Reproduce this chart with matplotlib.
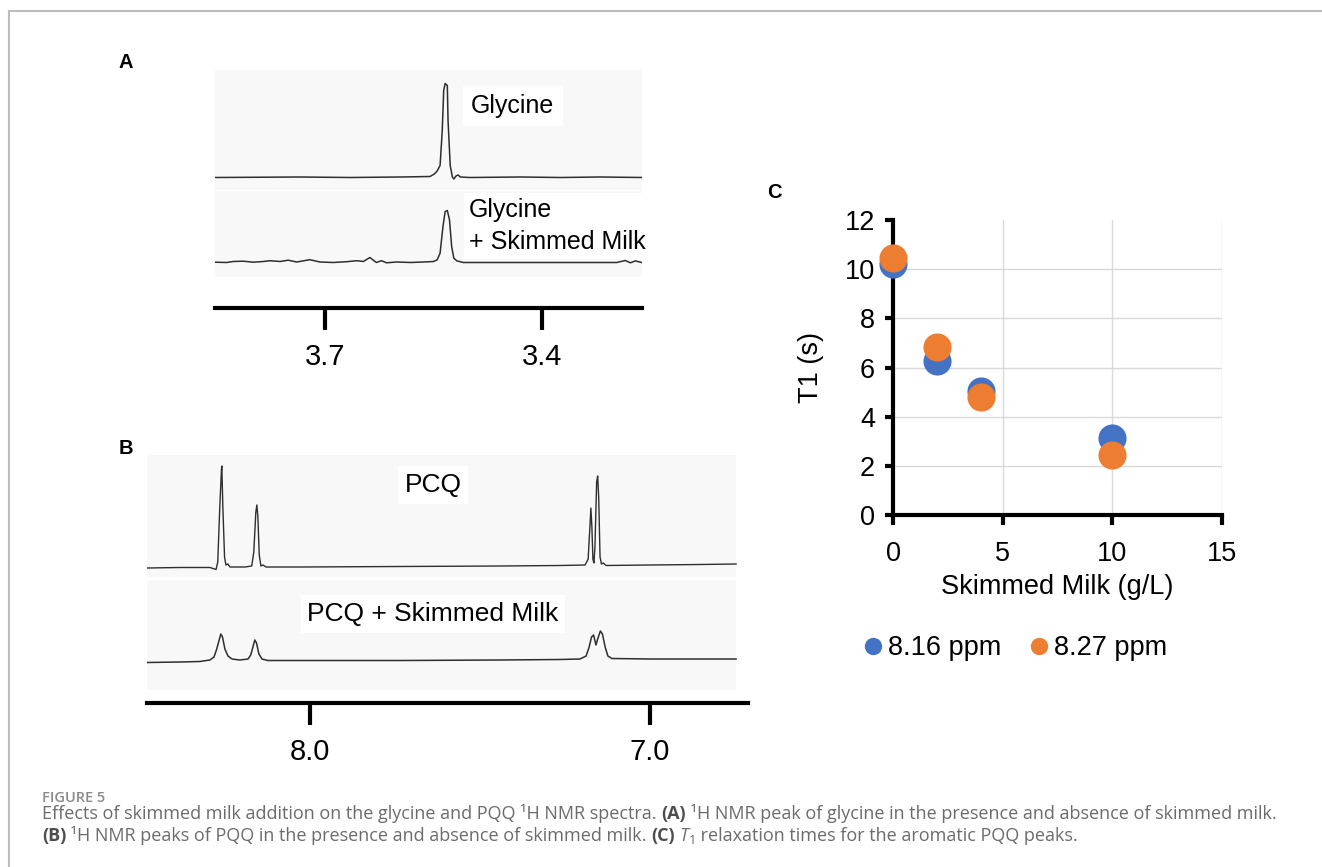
import matplotlib
matplotlib.use("Agg")
import matplotlib.pyplot as plt
import numpy as np
from matplotlib.lines import Line2D
from matplotlib.patches import Rectangle

# --- data ---
# panel A: glycine 1H NMR traces (ppm, intensity a.u.)
gly_ppm = [3.852, 3.735, 3.665, 3.596, 3.555, 3.549, 3.545, 3.541, 3.538, 3.536,
           3.534, 3.531, 3.530, 3.527, 3.524, 3.522, 3.519, 3.516, 3.513, 3.500,
           3.430, 3.375, 3.320, 3.262]
gly_int = [0, 0.5, 0, 0.5, 1, 3.5, 6.5, 12, 47, 87,
           94, 92, 57, 12, 0.5, -1.5, 1.5, 2.5, 0.5, 0,
           0.5, 0, 0.5, 0]

glym_ppm = [3.852, 3.836, 3.827, 3.813, 3.799, 3.785, 3.776, 3.762, 3.751, 3.739,
            3.721, 3.707, 3.689, 3.670, 3.656, 3.647, 3.638, 3.629, 3.622, 3.615,
            3.601, 3.582, 3.564, 3.550, 3.545, 3.541, 3.537, 3.534, 3.531, 3.528,
            3.525, 3.522, 3.518, 3.509, 3.481, 3.435, 3.389, 3.343, 3.297, 3.285,
            3.278, 3.271, 3.261]
glym_int = [0.3, 0, 1.0, 1.3, 0.3, 1.0, 1.8, 1.0, 2.3, 0.5,
            2.8, 0.5, 0, 0.8, 1.8, 1.0, 5.0, 0, 1.8, -0.3,
            0.5, 0, 0.5, 1.0, 2.7, 9.3, 36, 51, 52, 42.7,
            16, 4.3, 1.7, 0, 0, 0, 0, 0, 0, 2.0,
            -0.3, 1.6, -0.3]

# panel B: PQQ 1H NMR traces
pqq_ppm = [8.479, 8.382, 8.294, 8.276, 8.271, 8.265, 8.260, 8.259, 8.256, 8.251,
           8.247, 8.241, 8.235, 8.191, 8.171, 8.165, 8.159, 8.156, 8.153, 8.149,
           8.144, 8.138, 8.129, 8.029, 7.735, 7.441, 7.265, 7.191, 7.182, 7.176,
           7.174, 7.171, 7.168, 7.165, 7.162, 7.157, 7.154, 7.151, 7.147, 7.143,
           7.138, 7.129, 7.000, 6.853, 6.747]
pqq_int = [-1, -0.5, -0.5, -2.5, 5, 60, 98, 101, 60, 10,
           2, 3, 0, 0, 1, 15, 55, 62, 50, 12,
           1, 2, 0, 0, 0.5, 1, 1.5, 2, 8, 45,
           59, 40, 8, 4, 20, 85, 91, 70, 10, 3,
           4, 1.5, 2, 2.5, 3]

pqqm_ppm = [8.479, 8.382, 8.324, 8.294, 8.282, 8.274, 8.266, 8.262, 8.257, 8.250,
            8.241, 8.229, 8.206, 8.182, 8.174, 8.166, 8.162, 8.157, 8.150, 8.141,
            8.124, 8.029, 7.735, 7.441, 7.265, 7.206, 7.188, 7.179, 7.172, 7.166,
            7.159, 7.154, 7.146, 7.140, 7.132, 7.124, 7.112, 7.000, 6.853, 6.747]
pqqm_int = [-1.5, -1, -0.5, 1, 4, 12, 22, 27, 24, 12,
            5, 2, 1, 2, 6, 16, 21, 18, 7, 2,
            0.5, 0.5, 0.5, 1, 1.5, 2, 5, 14, 24, 26,
            16, 22, 30, 27, 14, 5, 2.5, 2, 2, 2]

# panel C: T1 relaxation times
milk = [0, 2, 4, 10]
t1_816 = [10.2, 6.25, 5.05, 3.12]
t1_827 = [10.45, 6.85, 4.82, 2.45]

W, H = 1322, 867
fig = plt.figure(figsize=(W / 100, H / 100), dpi=100)
plt.rcParams['font.family'] = ['Liberation Sans', 'DejaVu Sans']

TRACE = '#2e2e2e'
BOX = '#f8f8f8'


def px_axes(x0, y0, x1, y1):
    return fig.add_axes([x0 / W, 1 - y1 / H, (x1 - x0) / W, (y1 - y0) / H])


def fx(x):
    return x / W


def fy(y):
    return 1 - y / H


def spectrum_axis(ax, ticks, labels):
    for s in ['left', 'top', 'right']:
        ax.spines[s].set_visible(False)
    ax.spines['bottom'].set_linewidth(3)
    ax.set_yticks([])
    ax.set_xticks(ticks)
    ax.set_xticklabels(labels)
    ax.tick_params(axis='x', direction='out', length=16, width=3, pad=9,
                   labelsize=21)
    ax.patch.set_visible(False)


# --- panel A ---
axA = px_axes(215, 70, 642, 308)
axA.set_xlim(3.852, 3.262)
axA.set_ylim(0, 238)
spectrum_axis(axA, [3.7, 3.4], ['3.7', '3.4'])
axA.add_patch(Rectangle((0, 118), 1, 120, transform=axA.get_yaxis_transform(),
                        fc=BOX, ec='none', zorder=0))
axA.add_patch(Rectangle((0, 31), 1, 86, transform=axA.get_yaxis_transform(),
                        fc=BOX, ec='none', zorder=0))
axA.plot(gly_ppm, np.array(gly_int) + 130.5, color=TRACE, lw=1.1)
axA.plot(glym_ppm, np.array(glym_int) + 45.5, color=TRACE, lw=1.1)

fig.text(fx(471), fy(106), 'Glycine', fontsize=18, va='center', ha='left',
         bbox=dict(fc='white', ec='none', pad=6))
fig.text(fx(469), fy(226), 'Glycine\n+ Skimmed Milk', fontsize=18, va='center',
         ha='left', linespacing=1.38, bbox=dict(fc='white', ec='none', pad=4))

# --- panel B ---
axB = px_axes(147, 455, 748, 703)
axB.set_xlim(8.479, 6.712)
axB.set_ylim(0, 248)
spectrum_axis(axB, [8.0, 7.0], ['8.0', '7.0'])
axB.add_patch(Rectangle((0, 126), 0.98, 122, transform=axB.get_yaxis_transform(),
                        fc=BOX, ec='none', zorder=0))
axB.add_patch(Rectangle((0, 13), 0.98, 110, transform=axB.get_yaxis_transform(),
                        fc=BOX, ec='none', zorder=0))
axB.plot(pqq_ppm, np.array(pqq_int) + 136, color=TRACE, lw=1.0)
axB.plot(pqqm_ppm, np.array(pqqm_int) + 42, color=TRACE, lw=1.1)

fig.text(fx(433), fy(485), 'PCQ', fontsize=19, va='center', ha='center',
         bbox=dict(fc='white', ec='none', pad=5))
fig.text(fx(433), fy(614), 'PCQ + Skimmed Milk', fontsize=19, va='center',
         ha='center', bbox=dict(fc='white', ec='none', pad=5))

# --- panel C ---
axC = px_axes(893, 220, 1222, 515)
axC.set_xlim(0, 15)
axC.set_ylim(0, 12)
axC.set_xticks([0, 5, 10, 15])
axC.set_yticks(range(0, 13, 2))
axC.grid(True, color='#d9d9d9', lw=1)
axC.set_axisbelow(True)
ygl = axC.get_ygridlines()
ygl[0].set_visible(False)
ygl[-1].set_visible(False)
axC.get_xgridlines()[0].set_visible(False)
for s in ['top', 'right']:
    axC.spines[s].set_visible(False)
for s in ['left', 'bottom']:
    axC.spines[s].set_linewidth(3)
axC.tick_params(axis='x', direction='out', length=7, width=3, pad=12,
                labelsize=19.5)
axC.tick_params(axis='y', direction='out', length=6, width=3, pad=7,
                labelsize=19.5)
axC.scatter(milk, t1_816, s=410, color='#4472C4', zorder=3, clip_on=False,
            linewidths=0)
axC.scatter(milk, t1_827, s=410, color='#ED7D31', zorder=4, clip_on=False,
            linewidths=0)
axC.set_xlabel('Skimmed Milk (g/L)', fontsize=19.5, labelpad=5)
axC.set_ylabel('T1 (s)', fontsize=19.5, labelpad=15)

handles = [Line2D([], [], marker='o', ls='none', ms=11.5, color='#4472C4'),
           Line2D([], [], marker='o', ls='none', ms=11.5, color='#ED7D31')]
fig.legend(handles, ['8.16 ppm', '8.27 ppm'], loc='center',
           bbox_to_anchor=(fx(1016), fy(648)), ncol=2, frameon=False,
           fontsize=19.5, handlelength=0.6, handletextpad=0.25,
           columnspacing=1.1, borderpad=0)

# panel letters
for lbl, x, y in [('A', 126, 62), ('B', 126, 449), ('C', 774, 192)]:
    fig.text(fx(x), fy(y), lbl, fontsize=14.5, fontweight='bold', ha='center',
             va='center')

# frame lines
fig.add_artist(Line2D([fx(9), fx(9)], [fy(11), 0], color='#bdbdbd', lw=1.5))
fig.add_artist(Line2D([fx(9), 1], [fy(11), fy(11)], color='#bdbdbd', lw=1.5))

# --- caption ---
CAP = '#6b6b6b'
CAPB = '#4d4d4d'
cfont = ['Open Sans', 'DejaVu Sans']
renderer = fig.canvas.get_renderer()


def text_width(s, props):
    a = fig.text(0, 0, '|' + s + '|', **props)
    b = fig.text(0, 0, '||', **props)
    w = a.get_window_extent(renderer).width - b.get_window_extent(renderer).width
    a.remove()
    b.remove()
    return w


def caption_line(x, y, runs, size):
    for s, kw in runs:
        props = dict(family=cfont, fontsize=size, color=CAP)
        props.update(kw)
        dy = props.pop('dy', 0)
        fig.text(fx(x), fy(y + dy), s, va='baseline', ha='left', **props)
        x += text_width(s, props)


csize = 12.95
bold = dict(fontweight='bold', color=CAPB)
fig.text(fx(42), fy(802), 'FIGURE 5', family=cfont, fontsize=10.5,
         fontweight='semibold', color='#8a8a8a', va='baseline', ha='left')
caption_line(42, 819, [
    ('Effects of skimmed milk addition on the glycine and PQQ \u00b9H NMR spectra. ', {}),
    ('(A)', bold),
    (' \u00b9H NMR peak of glycine in the presence and absence of skimmed milk.', {}),
], csize)
caption_line(42, 841, [
    ('(B)', bold),
    (' \u00b9H NMR peaks of PQQ in the presence and absence of skimmed milk. ', {}),
    ('(C)', bold),
    (' ', {}),
    ('T', dict(style='italic')),
    ('1', dict(fontsize=csize * 0.7, dy=3)),
    (' relaxation times for the aromatic PQQ peaks.', {}),
], csize)

fig.savefig('out.png', dpi=100)
